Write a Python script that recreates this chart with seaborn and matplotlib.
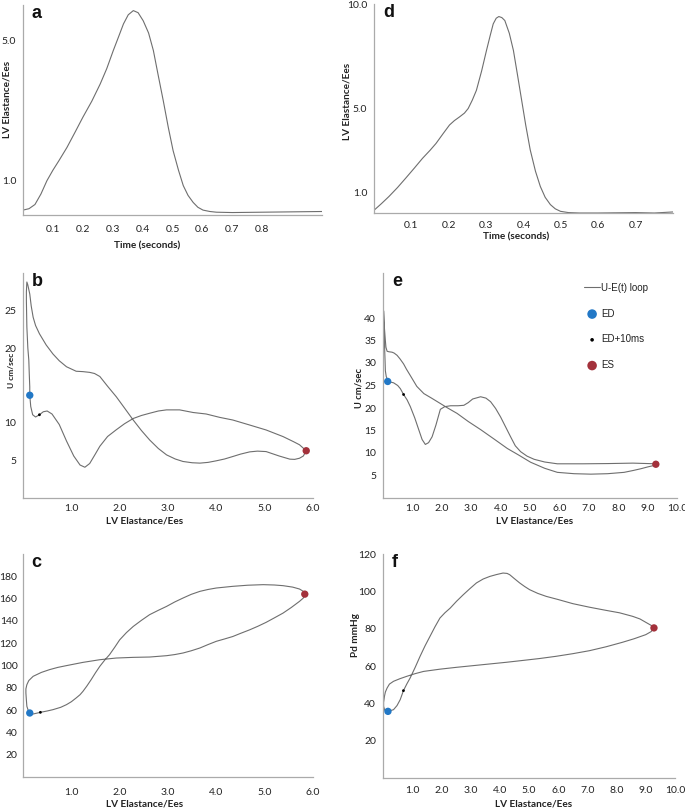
import numpy as np
import pandas as pd
import matplotlib
matplotlib.use("Agg")
import matplotlib.pyplot as plt
import seaborn as sns

# ===========================
# Data
# ===========================
# a: normalised elastance vs time (left column)
time_a = [0.000, 0.020, 0.040, 0.060, 0.080, 0.100, 0.120, 0.147, 0.175, 0.200,
          0.230, 0.258, 0.280, 0.302, 0.320, 0.336, 0.352, 0.369, 0.385, 0.402,
          0.420, 0.436, 0.452, 0.469, 0.486, 0.502, 0.520, 0.536, 0.552, 0.569,
          0.585, 0.602, 0.625, 0.647, 0.700, 0.800, 0.900, 1.000]
elast_a = [0.14, 0.18, 0.30, 0.60, 0.98, 1.28, 1.55, 1.93, 2.38, 2.79,
           3.25, 3.74, 4.18, 4.70, 5.10, 5.46, 5.72, 5.84, 5.78, 5.55,
           5.20, 4.70, 4.00, 3.27, 2.50, 1.84, 1.28, 0.84, 0.56, 0.36,
           0.22, 0.14, 0.10, 0.08, 0.07, 0.08, 0.09, 0.10]

# d: normalised elastance vs time (right column)
time_d = [0.000, 0.020, 0.040, 0.063, 0.085, 0.108, 0.130, 0.150, 0.166, 0.185,
          0.202, 0.215, 0.229, 0.242, 0.252, 0.263, 0.274, 0.288, 0.301, 0.311,
          0.319, 0.327, 0.334, 0.342, 0.350, 0.362, 0.373, 0.384, 0.395, 0.406,
          0.418, 0.432, 0.445, 0.458, 0.472, 0.485, 0.499, 0.520, 0.550, 0.600,
          0.700, 0.750, 0.800]
elast_d = [0.13, 0.45, 0.79, 1.22, 1.67, 2.15, 2.62, 3.00, 3.33, 3.80,
           4.21, 4.42, 4.60, 4.78, 5.00, 5.40, 5.87, 6.80, 7.78, 8.50,
           9.05, 9.32, 9.40, 9.35, 9.21, 8.60, 7.78, 6.60, 5.40, 4.20,
           3.02, 2.00, 1.27, 0.75, 0.40, 0.20, 0.08, 0.02, 0.00, 0.00,
           0.02, 0.00, 0.05]

# b: U-E(t) loop, left column
loop_b_e = [0.14, 0.16, 0.20, 0.26, 0.34, 0.42, 0.50, 0.60, 0.75, 0.90,
            1.05, 1.18, 1.28, 1.38, 1.50, 1.59, 1.75, 1.93, 2.10, 2.28,
            2.45, 2.62, 2.80, 2.97, 3.24, 3.52, 3.79, 4.07, 4.34, 4.69,
            5.03, 5.38, 5.60, 5.72, 5.86, 5.80, 5.72, 5.62, 5.52, 5.30,
            5.03, 4.85, 4.69, 4.50, 4.34, 4.17, 4.00, 3.83, 3.66, 3.50,
            3.31, 3.15, 2.97, 2.80, 2.62, 2.45, 2.28, 2.10, 1.93, 1.75,
            1.59, 1.48, 1.38, 1.24, 1.10, 0.90, 0.75, 0.62, 0.48, 0.34,
            0.26, 0.21, 0.17, 0.14, 0.10, 0.08, 0.07, 0.07, 0.08, 0.10,
            0.12, 0.13, 0.14, 0.14]
loop_b_u = [13.7, 12.2, 11.1, 10.8, 11.1, 11.5, 11.6, 11.2, 9.8, 7.6,
            5.6, 4.4, 4.1, 4.6, 5.9, 6.9, 8.2, 9.1, 9.9, 10.6,
            11.0, 11.3, 11.6, 11.75, 11.75, 11.4, 11.2, 10.75, 10.4, 9.73,
            9.07, 8.19, 7.5, 7.1, 6.3, 5.6, 5.3, 5.15, 5.18, 5.6,
            6.19, 6.25, 6.15, 5.85, 5.53, 5.2, 4.96, 4.75, 4.65, 4.7,
            4.87, 5.2, 5.75, 6.6, 7.74, 9.0, 10.4, 12.0, 13.5, 14.9,
            16.2, 16.6, 16.75, 16.85, 16.9, 17.5, 18.3, 19.2, 20.4, 21.9,
            23.0, 24.1, 25.6, 27.2, 28.4, 28.8, 27.5, 26.3, 22.8, 20.0,
            18.4, 16.5, 14.8, 13.7]

# e: U-E(t) loop, right column
loop_e_e = [0.16, 0.36, 0.50, 0.59, 0.70, 0.82, 0.93, 1.08, 1.22, 1.33,
            1.44, 1.55, 1.67, 1.80, 1.95, 2.10, 2.30, 2.55, 2.75, 2.90,
            3.05, 3.32, 3.50, 3.66, 3.83, 4.00, 4.17, 4.34, 4.50, 4.68,
            4.90, 5.14, 5.50, 5.93, 6.80, 7.64, 8.50, 9.28, 9.20, 9.00,
            8.77, 8.50, 8.20, 7.64, 7.07, 6.50, 5.93, 5.50, 5.02, 4.60,
            4.23, 3.80, 3.32, 2.90, 2.52, 2.20, 1.95, 1.65, 1.39, 1.15,
            0.93, 0.80, 0.70, 0.58, 0.48, 0.38, 0.31, 0.20, 0.14, 0.10,
            0.08, 0.04, 0.02, 0.03, 0.05, 0.07, 0.08, 0.11, 0.14, 0.16]
loop_e_u = [25.9, 25.6, 25.0, 24.3, 23.0, 21.8, 20.3, 17.8, 15.1, 13.0,
            11.9, 12.3, 13.6, 16.2, 19.7, 20.3, 20.5, 20.5, 20.6, 21.2,
            22.0, 22.5, 22.2, 21.4, 19.9, 18.0, 15.8, 13.6, 11.6, 10.3,
            9.3, 8.6, 8.0, 7.6, 7.6, 7.65, 7.75, 7.6, 7.2, 6.9,
            6.5, 6.1, 5.7, 5.4, 5.3, 5.4, 5.7, 6.6, 7.95, 9.6,
            11.0, 13.0, 15.2, 17.0, 18.8, 20.0, 21.0, 22.2, 23.2, 24.8,
            27.2, 28.6, 29.8, 30.9, 31.7, 32.2, 32.4, 32.5, 32.6, 33.5,
            35.0, 38.5, 41.6, 38.0, 34.2, 30.5, 28.3, 27.0, 26.5, 25.9]

# c: pressure-elastance loop, left column (no y label in the source)
loop_c_e = [0.14, 0.21, 0.36, 0.50, 0.62, 0.78, 0.90, 1.00, 1.10, 1.18,
            1.24, 1.32, 1.41, 1.50, 1.59, 1.69, 1.79, 1.90, 2.00, 2.14,
            2.28, 2.45, 2.62, 2.80, 2.97, 3.14, 3.31, 3.48, 3.66, 3.83,
            4.00, 4.34, 4.65, 4.97, 5.20, 5.38, 5.58, 5.72, 5.80, 5.83,
            5.80, 5.72, 5.55, 5.38, 5.20, 5.03, 4.86, 4.69, 4.50, 4.34,
            4.17, 4.00, 3.83, 3.66, 3.48, 3.31, 3.14, 2.97, 2.62, 2.28,
            1.93, 1.59, 1.24, 0.90, 0.72, 0.55, 0.38, 0.21, 0.12, 0.08,
            0.06, 0.06, 0.07, 0.08, 0.11, 0.14]
loop_c_p = [57.4, 56.5, 58.0, 59.2, 60.4, 62.5, 64.9, 67.5, 70.9, 73.8,
            76.8, 81.5, 87.3, 93.5, 99.3, 104.8, 109.7, 116.5, 123.0, 129.5,
            135.0, 140.5, 145.6, 149.5, 153.0, 157.0, 160.5, 163.8, 166.5, 168.2,
            169.5, 171.0, 172.0, 172.5, 172.2, 171.6, 170.3, 168.6, 166.5, 164.0,
            160.5, 157.5, 152.0, 147.0, 142.7, 138.7, 135.2, 132.0, 128.8, 126.0,
            123.8, 121.7, 118.8, 115.7, 113.2, 111.2, 109.8, 108.8, 107.6, 107.3,
            106.7, 105.2, 102.8, 99.9, 98.3, 96.3, 93.8, 90.3, 86.5, 82.8,
            79.0, 75.3, 69.0, 63.4, 59.5, 57.4]

# f: Pd-elastance loop, right column
loop_f_e = [0.17, 0.36, 0.48, 0.59, 0.70, 0.82, 0.93, 1.10, 1.27, 1.44,
            1.61, 1.78, 1.95, 2.12, 2.30, 2.52, 2.75, 2.98, 3.20, 3.43,
            3.66, 3.89, 4.11, 4.25, 4.34, 4.50, 4.68, 4.85, 5.02, 5.30,
            5.59, 6.00, 6.50, 7.07, 7.64, 8.10, 8.55, 8.80, 9.00, 9.18,
            9.28, 9.18, 9.00, 8.60, 8.20, 7.64, 7.07, 6.50, 5.93, 5.36,
            4.80, 4.23, 3.66, 3.09, 2.52, 1.95, 1.39, 1.10, 0.82, 0.58,
            0.36, 0.22, 0.14, 0.08, 0.05, 0.02, 0.02, 0.06, 0.10, 0.17]
loop_f_p = [35.7, 36.6, 38.8, 42.0, 46.8, 50.5, 53.6, 59.2, 65.2, 70.8,
            75.9, 81.0, 85.7, 88.5, 91.0, 94.7, 98.2, 101.5, 104.5, 106.6,
            108.0, 109.0, 109.8, 109.6, 108.9, 106.8, 104.5, 102.6, 100.9, 98.9,
            97.3, 95.6, 93.4, 91.5, 89.8, 88.5, 86.6, 85.2, 83.4, 81.8,
            80.4, 78.4, 76.8, 74.6, 72.7, 70.3, 68.2, 66.6, 65.2, 64.0,
            63.0, 62.0, 61.1, 60.2, 59.3, 58.3, 57.1, 55.9, 54.5, 53.2,
            51.8, 50.3, 48.2, 46.0, 43.75, 40.5, 38.4, 36.3, 35.7, 35.7]

# ED, ED+10ms and ES points (elastance, value) per loop panel
ed_pts = {'b': (0.14, 13.7), 'e': (0.16, 25.9), 'c': (0.14, 57.4), 'f': (0.17, 35.7)}
ed10_pts = {'b': (0.34, 11.1), 'e': (0.70, 23.0), 'c': (0.36, 58.0), 'f': (0.70, 46.8)}
es_pts = {'b': (5.86, 6.3), 'e': (9.28, 7.5), 'c': (5.83, 164.0), 'f': (9.28, 80.4)}

# ===========================
# Styling
# ===========================
sns.set_style("white")
plt.rcParams['font.family'] = ['Lato', 'DejaVu Sans']

LINE = '#6e6e6e'
SPINE = '#aaaaaa'
BLUE = '#2278c6'
RED = '#a3313b'
TXT = '#222222'

W, H = 685, 810
fig = plt.figure(figsize=(W / 100, H / 100), dpi=100)


def make_axes(l, t, r, b):
    # pixel box -> figure fraction
    return fig.add_axes([l / W, 1 - b / H, (r - l) / W, (b - t) / H])


def style(ax, letter, xpad, xlab_pos, ylab_pos, ypad=2):
    for side in ['top', 'right']:
        ax.spines[side].set_visible(False)
    for side in ['left', 'bottom']:
        ax.spines[side].set_color(SPINE)
        ax.spines[side].set_linewidth(0.9)
    ax.tick_params(axis='x', direction='in', length=4, width=0.7, color=SPINE,
                   labelsize=7.5, labelcolor=TXT, pad=xpad)
    ax.tick_params(axis='y', direction='out', length=3, width=0.7, color=SPINE,
                   labelsize=7.5, labelcolor=TXT, pad=ypad)
    ax.text(0.03, 1.0, letter, transform=ax.transAxes, ha='left', va='top',
            fontsize=13, fontweight='bold', family='Liberation Sans', color='#111111')
    ax.xaxis.set_label_coords(*xlab_pos)
    if ylab_pos is not None:
        ax.yaxis.set_label_coords(*ylab_pos)


def label(ax, xl, yl, ysize=7.2):
    ax.set_xlabel(xl, fontsize=7.2, fontweight='bold', color=TXT)
    if yl:
        ax.set_ylabel(yl, fontsize=ysize, fontweight='bold', color=TXT)
    else:
        ax.yaxis.label.set_visible(False)


def add_points(ax, key, with_labels=False):
    sns.scatterplot(x=[ed_pts[key][0]], y=[ed_pts[key][1]], ax=ax, color=BLUE, s=28,
                    edgecolor='none', zorder=5, label='ED' if with_labels else None)
    sns.scatterplot(x=[ed10_pts[key][0]], y=[ed10_pts[key][1]], ax=ax, color='black', s=4,
                    edgecolor='none', zorder=5, label='ED+10ms' if with_labels else None)
    sns.scatterplot(x=[es_pts[key][0]], y=[es_pts[key][1]], ax=ax, color=RED, s=28,
                    edgecolor='none', zorder=5, label='ES' if with_labels else None)


# ===========================
# a. Elastance vs time (left)
# ===========================
ax_a = make_axes(23, 5, 322, 215)
sns.lineplot(x=time_a, y=elast_a, ax=ax_a, color=LINE, linewidth=0.8)
ax_a.set_xlim(0, 1.0)
ax_a.set_ylim(0, 6.0)
ax_a.set_xticks([0.1, 0.2, 0.3, 0.4, 0.5, 0.6, 0.7, 0.8, 0.9])
ax_a.set_xticklabels(['0.1', '0.2', '0.3', '0.4', '0.5', '0.6', '0.7', '0.8', ''])
ax_a.set_yticks([1, 2, 3, 4, 5])
ax_a.set_yticklabels(['1.0', '', '', '', '5.0'])
label(ax_a, 'Time (seconds)', 'LV Elastance/Ees')
style(ax_a, 'a', 7, (0.415, -0.124), (-0.038, 0.55))

# ===========================
# d. Elastance vs time (right)
# ===========================
ax_d = make_axes(374, 4, 673, 213)
sns.lineplot(x=time_d, y=elast_d, ax=ax_d, color=LINE, linewidth=0.8)
ax_d.set_xlim(0, 0.8)
ax_d.set_ylim(0, 10.0)
ax_d.set_xticks([0.1, 0.2, 0.3, 0.4, 0.5, 0.6, 0.7])
ax_d.set_xticklabels(['0.1', '0.2', '0.3', '0.4', '0.5', '0.6', '0.7'])
ax_d.set_yticks(list(range(1, 11)))
ax_d.set_yticklabels(['1.0', '', '', '', '5.0', '', '', '', '', '10.0'])
label(ax_d, 'Time (seconds)', 'LV Elastance/Ees')
style(ax_d, 'd', 6, (0.475, -0.094), (-0.074, 0.536))

# ===========================
# b. U-E loop (left)
# ===========================
ax_b = make_axes(23, 273, 313, 498)
sns.lineplot(x=loop_b_e, y=loop_b_u, ax=ax_b, sort=False, estimator=None,
             color=LINE, linewidth=0.8)
add_points(ax_b, 'b')
ax_b.set_xlim(0, 6.0)
ax_b.set_ylim(0, 30)
ax_b.set_xticks([1, 2, 3, 4, 5, 6])
ax_b.set_xticklabels(['1.0', '2.0', '3.0', '4.0', '5.0', '6.0'])
ax_b.set_yticks([0, 5, 10, 15, 20, 25])
ax_b.set_yticklabels(['', '5', '10', '', '20', '25'])
label(ax_b, 'LV Elastance/Ees', 'U cm/sec', ysize=6.0)
style(ax_b, 'b', 4, (0.42, -0.08), (-0.026, 0.567))

# ===========================
# e. U-E loop (right) with legend
# ===========================
ax_e = make_axes(383, 273, 677, 498)
sns.lineplot(x=loop_e_e, y=loop_e_u, ax=ax_e, sort=False, estimator=None,
             color=LINE, linewidth=0.8, label='U-E(t) loop')
add_points(ax_e, 'e', with_labels=True)
ax_e.set_xlim(0, 10.0)
ax_e.set_ylim(0, 50)
ax_e.set_xticks(list(range(1, 11)))
ax_e.set_xticklabels([f'{v:.1f}' for v in range(1, 11)])
ax_e.set_yticks(list(range(0, 50, 5)))
ax_e.set_yticklabels(['', '5', '10', '15', '20', '25', '30', '35', '40', ''])
label(ax_e, 'LV Elastance/Ees', 'U cm/sec', ysize=6.8)
style(ax_e, 'e', 4, (0.514, -0.08), (-0.068, 0.49))
leg = ax_e.legend(loc='upper left', bbox_to_anchor=(0.655, 0.995), frameon=False,
                  prop={'family': 'Liberation Sans', 'size': 7},
                  labelspacing=1.62, handlelength=1.6, handletextpad=0.15,
                  markerscale=1.3)
for t in leg.get_texts():
    t.set_color(TXT)

# ===========================
# c. P-E loop (left)
# ===========================
ax_c = make_axes(23, 554, 313, 777)
sns.lineplot(x=loop_c_e, y=loop_c_p, ax=ax_c, sort=False, estimator=None,
             color=LINE, linewidth=0.8)
add_points(ax_c, 'c')
ax_c.set_xlim(0, 6.0)
ax_c.set_ylim(0, 200)
ax_c.set_xticks([1, 2, 3, 4, 5, 6])
ax_c.set_xticklabels(['1.0', '2.0', '3.0', '4.0', '5.0', '6.0'])
ax_c.set_yticks(list(range(20, 200, 20)))
ax_c.set_yticklabels([str(v) for v in range(20, 200, 20)])
label(ax_c, 'LV Elastance/Ees', '')
style(ax_c, 'c', 8, (0.42, -0.103), None, ypad=1)

# ===========================
# f. Pd-E loop (right)
# ===========================
ax_f = make_axes(383, 554, 675, 778)
sns.lineplot(x=loop_f_e, y=loop_f_p, ax=ax_f, sort=False, estimator=None,
             color=LINE, linewidth=0.8)
add_points(ax_f, 'f')
ax_f.set_xlim(0, 10.0)
ax_f.set_ylim(0, 120)
ax_f.set_xticks(list(range(1, 11)))
ax_f.set_xticklabels([f'{v:.1f}' for v in range(1, 11)])
ax_f.set_yticks(list(range(20, 121, 20)))
ax_f.set_yticklabels([str(v) for v in range(20, 121, 20)])
label(ax_f, 'LV Elastance/Ees', 'Pd mmHg')
style(ax_f, 'f', 6, (0.514, -0.098), (-0.079, 0.64))

fig.savefig('out.png', dpi=100)
